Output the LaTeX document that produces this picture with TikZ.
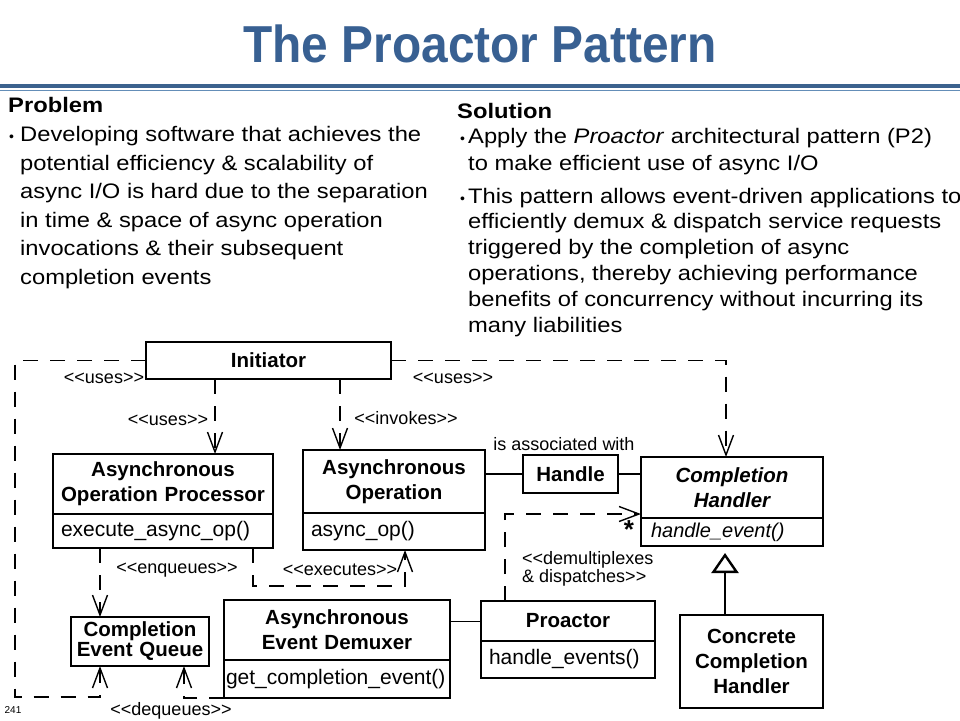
\documentclass[tikz,border=0pt]{standalone}
\usepackage{fontspec}
\setmainfont{Liberation Sans}
\newfontfamily\bodyfont{Liberation Sans}[FakeStretch=1.13]
\newfontfamily\titlefont{Liberation Sans}[FakeStretch=0.92]
\usetikzlibrary{arrows.meta,positioning}

\definecolor{titleblue}{RGB}{56,96,146}
\definecolor{ruledark}{RGB}{60,98,142}
\definecolor{rulelight}{RGB}{100,142,184}

\newcommand\stereo[1]{<\kern0pt<#1>\kern0pt>}

\tikzset{
  cls/.style={draw, line width=2.4pt, outer sep=0pt, inner sep=4pt, align=center,
              font=\bfseries\fontsize{20.5}{25}\selectfont},
  abstr/.style={cls, font=\bfseries\itshape\fontsize{20.5}{25}\selectfont},
  meth/.style={draw, line width=2.4pt, outer sep=0pt, inner xsep=8pt, inner ysep=2pt, align=left,
              font=\fontsize{21}{25}\selectfont},
  dep/.style={line width=1.4pt, dash pattern=on 15pt off 12pt,
              -{Straight Barb[length=20pt,width=15pt]}},
  assoc/.style={line width=1.6pt},
  inherit/.style={line width=2.4pt, -{Triangle[open,length=20pt,width=27pt]}},
  lbl/.style={inner sep=0pt, font=\fontsize{18}{18}\selectfont},
  body/.style={anchor=base west, inner sep=0pt, font=\bodyfont\fontsize{21}{28}\selectfont},
  head/.style={anchor=base west, inner sep=0pt, font=\bodyfont\bfseries\fontsize{21}{28}\selectfont},
  dot/.style={anchor=base west, inner sep=0pt, font=\fontsize{14}{14}\selectfont}
}

\begin{document}
\begin{tikzpicture}[x=1pt, y=-1pt]
    \useasboundingbox (0,0) rectangle (960,720);

    % 1. Title and the two rules under it
    \node[anchor=base, text=titleblue, font=\titlefont\bfseries\fontsize{52}{60}\selectfont]
        (Title) at (480,62) {The Proactor Pattern};
    \path (0,86)   coordinate (R1) (960,86)   coordinate (R2)
          (0,90.5) coordinate (R3) (960,90.5) coordinate (R4);
    \draw[line width=3.5pt, ruledark] (R1) -- (R2);
    \draw[line width=1.4pt, rulelight] (R3) -- (R4);

    % 2. Problem
    \node[head] (Prob) at (8,112) {Problem};
    \node[dot] (ProbDot) at (9,141.7) {\textbullet};
    \foreach \txt [count=\i from 0] in {Developing software that achieves the,
        potential efficiency \& scalability of,
        async I/O is hard due to the separation,
        in time \& space of async operation,
        invocations \& their subsequent,
        completion events}
        \node[body] (ProbL\i) at (20,{141.7+28.5*\i}) {\txt};

    % 3. Solution
    \node[head] (Sol) at (457,118) {Solution};
    \node[dot] (SolDotA) at (460,143) {\textbullet};
    \node[body] (SolA0) at (468,143) {Apply the \textit{Proactor} architectural pattern (P2)};
    \node[body] (SolA1) at (468,170.7) {to make efficient use of async I/O};
    \node[dot] (SolDotB) at (460,203) {\textbullet};
    \foreach \txt [count=\i from 0] in {This pattern allows event-driven applications to,
        efficiently demux \& dispatch service requests,
        triggered by the completion of async,
        {operations, thereby achieving performance},
        benefits of concurrency without incurring its,
        many liabilities}
        \node[body] (SolB\i) at (468,{203+25.8*\i}) {\txt};

    % 4. Classes of the pattern
    \node[cls, text width=237, minimum height=37] (Ini) at (268.5,360.5) {Initiator};

    \node[cls, text width=212, minimum height=60] (AOP) at (163,484) {Asynchronous\\Operation Processor};
    \node[meth, text width=204, minimum height=34, below=0pt of AOP] (AOPm) {execute\_async\_op()};

    \node[cls, text width=174, minimum height=63] (AO) at (394,481.5) {Asynchronous\\Operation};
    \node[meth, text width=166, minimum height=37, below=0pt of AO] (AOm) {async\_op()};

    \node[cls, text width=87, minimum height=38] (Hdl) at (570.5,474) {Handle};

    \node[abstr, text width=174, minimum height=61] (CH) at (732,487.5) {Completion\\Handler};
    \node[meth, text width=162, inner xsep=10pt, minimum height=28, below=0pt of CH,
          font=\itshape\fontsize{20}{24}\selectfont] (CHm) {handle\_event()};

    \node[cls, text width=130, minimum height=49, font=\bfseries\fontsize{20.5}{20}\selectfont]
        (CEQ) at (140,641.5) {Completion\\Event Queue};

    \node[cls, text width=218, minimum height=60] (AED) at (337,630) {Asynchronous\\Event Demuxer};
    \node[meth, text width=222, inner xsep=2pt, minimum height=38, below=0pt of AED] (AEDm) {get\_completion\_event()};

    \node[cls, text width=166, minimum height=40] (Pro) at (568,621) {Proactor};
    \node[meth, text width=158, minimum height=37, below=0pt of Pro] (Prom) {handle\_events()};

    \node[cls, text width=135, minimum height=93] (CCH) at (751.5,661.5) {Concrete\\Completion\\Handler};

    % 5. End points of the connectors
    \path ([xshift=69]Ini.south west)   coordinate (U1)
          ([xshift=194]Ini.south west)  coordinate (U2)
          ([xshift=-6]CH.north)         coordinate (U3)
          (15,697)                      coordinate (BL)
          ([xshift=29]CEQ.south west)   coordinate (Q1)
          ([xshift=113]CEQ.south west)  coordinate (Q2)
          ([xshift=47]AOPm.south west)  coordinate (E1)
          ([xshift=200]AOPm.south west) coordinate (X1)
          ([xshift=102]AOm.south west)  coordinate (X2)
          ([xshift=24]Pro.north west)   coordinate (D1)
          ([yshift=4]CH.south west)     coordinate (D2)
          (725,553)                     coordinate (Gen);

    % 6. Dependencies (dashed, open arrow)
    \draw[dep] (U1) -- (U1 |- AOP.north);
    \draw[dep] (U2) -- (U2 |- AO.north);
    \draw[dep] (Ini.west) -| (BL) -| (Q1);
    \draw[dep] (Ini.east) -| (U3);
    \draw[dep] (E1) -- (E1 |- CEQ.north);
    \draw[dep] (X1) -- ++(0,38) -| (X2);
    \draw[dep] (AEDm.south west) -| (Q2);
    \draw[dep] (D1) |- (D2);

    % 7. Associations and generalization
    \draw[assoc] (Hdl.west -| AO.east) -- (Hdl.west);
    \draw[assoc] (Hdl.east) -- (Hdl.east -| CH.west);
    \draw[line width=1pt] (Pro.west -| AED.east) -- (Pro.west);
    \draw[inherit] (CCH.north -| Gen) -- (Gen);

    % 8. Labels
    \node[lbl] (Lu1) at (104,378) {\stereo{uses}};
    \node[lbl] (Lu2) at (453,378) {\stereo{uses}};
    \node[lbl] (Lu3) at (168,420) {\stereo{uses}};
    \node[lbl] (Linv) at (406,418) {\stereo{invokes}};
    \node[lbl] (Lasc) at (564,444) {is associated with};
    \node[lbl] (Lenq) at (177,570) {\stereo{enqueues}};
    \node[lbl] (Lexe) at (340,570) {\stereo{executes}};
    \node[lbl] (Ldeq) at (171,711) {\stereo{dequeues}};
    \node[lbl, anchor=west, align=left] (Ldem) at (522,569) {<\kern0pt<demultiplexes\\\& dispatches>\kern0pt>};
    \node[font=\bfseries\fontsize{26}{26}\selectfont, inner sep=0pt] (Star) at (629,530) {*};
    \node[font=\fontsize{10}{10}\selectfont, inner sep=0pt] (Page) at (13,710) {241};
\end{tikzpicture}
\end{document}
